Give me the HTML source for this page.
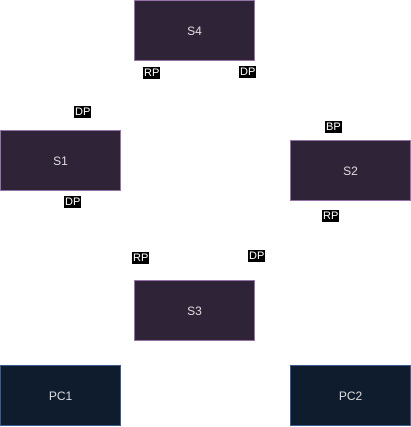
<!DOCTYPE html><html><head><style>
body{margin:0;width:411px;height:427px;background:#fff;position:relative;font-family:"Liberation Sans",sans-serif;overflow:hidden}
.b{position:absolute;width:119px;height:59px;background:#2f2437;border:1px solid #9673a6;color:#ddd;font-size:12px;display:flex;align-items:center;justify-content:center}
.p{background:#0f1c2e;border-color:#3b5a8f}
.l{position:absolute;background:#000;color:#fff;font-size:11px;line-height:12px;padding:0 1px}
</style></head><body>
<div class="b" style="left:134px;top:0">S4</div>
<div class="b" style="left:0;top:130px">S1</div>
<div class="b" style="left:290px;top:140px">S2</div>
<div class="b" style="left:134px;top:280px">S3</div>
<div class="b p" style="left:0;top:365px">PC1</div>
<div class="b p" style="left:290px;top:365px">PC2</div>
<div class="l" style="left:143px;top:67px">RP</div>
<div class="l" style="left:239px;top:66px">DP</div>
<div class="l" style="left:74px;top:106px">DP</div>
<div class="l" style="left:325px;top:121px">BP</div>
<div class="l" style="left:64px;top:196px">DP</div>
<div class="l" style="left:322px;top:210px">RP</div>
<div class="l" style="left:132px;top:252px">RP</div>
<div class="l" style="left:248px;top:250px">DP</div>
</body></html>
